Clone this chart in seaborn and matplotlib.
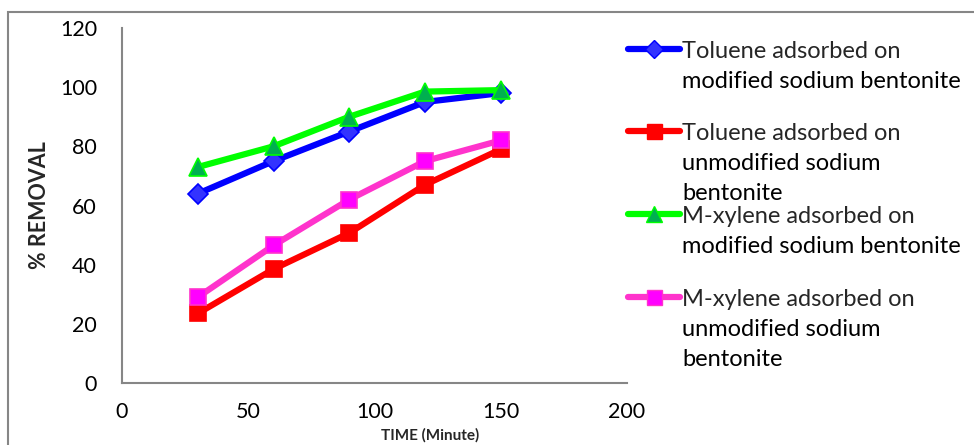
import matplotlib
matplotlib.use("Agg")
import matplotlib.pyplot as plt
import seaborn as sns
import pandas as pd
from matplotlib.patches import Rectangle
from matplotlib.lines import Line2D

time_min = [30, 60, 90, 120, 150]
toluene_modified = [64, 75, 85, 95, 98]
toluene_unmodified = [23.5, 38.5, 50.7, 67, 79]
mxylene_modified = [73, 80, 90, 98.5, 99]
mxylene_unmodified = [29, 46.5, 62, 75, 82]

series_names = [
    "Toluene adsorbed on\nmodified sodium bentonite",
    "Toluene adsorbed on\nunmodified sodium\nbentonite",
    "M-xylene adsorbed on\nmodified sodium bentonite",
    "M-xylene adsorbed on\nunmodified sodium\nbentonite",
]
series_values = [toluene_modified, toluene_unmodified, mxylene_modified, mxylene_unmodified]
line_colors = ["#0000FF", "#FF0000", "#00FF00", "#FF33CC"]
marker_faces = ["#3333FF", "#FF0000", "#00B050", "#FF00FF"]
marker_edges = ["#0000FF", "#FF0000", "#00FF00", "#FF33CC"]
markers = ["D", "s", "^", "s"]
marker_sizes = [10, 12, 13, 12]

rows = []
for name, vals in zip(series_names, series_values):
    for t, v in zip(time_min, vals):
        rows.append({"time": t, "removal": v, "series": name})
df = pd.DataFrame(rows)

sns.set_theme(style="white")
plt.rcParams["font.family"] = ["Lato", "DejaVu Sans"]

fig = plt.figure(figsize=(9.74, 4.45), dpi=100)
W, H = 974, 445
ax = fig.add_axes([122 / W, (H - 383) / H, (627 - 122) / W, (383 - 28) / H])

handles = []
for i, name in enumerate(series_names):
    sub = df[df["series"] == name]
    sns.lineplot(data=sub, x="time", y="removal", ax=ax, color=line_colors[i],
                 linewidth=4.5, marker=markers[i], markersize=marker_sizes[i],
                 markerfacecolor=marker_faces[i], markeredgecolor=marker_edges[i],
                 markeredgewidth=1.2, legend=False, zorder=3 + i)
    handles.append(ax.lines[-1])

ax.set_xlim(0, 200)
ax.set_ylim(0, 120)
ax.set_xticks([0, 50, 100, 150, 200])
ax.set_yticks([0, 20, 40, 60, 80, 100, 120])
ax.tick_params(axis="both", labelsize=15.5, length=0, colors="black")
ax.tick_params(axis="y", pad=18)
ax.tick_params(axis="x", pad=14)
for s in ["top", "right"]:
    ax.spines[s].set_visible(False)
for s in ["left", "bottom"]:
    ax.spines[s].set_color("#868686")
    ax.spines[s].set_linewidth(1.5)
ax.set_xlabel("TIME (Minute)", fontsize=11, fontweight="bold")
ax.set_ylabel("% REMOVAL", fontsize=15.5, fontweight="bold")
ax.xaxis.set_label_coords((430 - 122) / (627 - 122), -(428 - 383) / (383 - 28))
ax.yaxis.set_label_coords(-(122 - 50) / (627 - 122), (383 - 205) / (383 - 28))

# outer chart border
fig.add_artist(Rectangle((8 / W, -0.05), 1.1, (H - 12) / H + 0.05,
                         transform=fig.transFigure, fill=False,
                         edgecolor="#868686", linewidth=1.5))

# legend entries: handle aligned to first line of each label
first_line_y = [51, 133, 216, 299]
line_step = 30.5
fs = 17
for i, name in enumerate(series_names):
    lines = name.split("\n")
    proxy = Line2D([], [], color=line_colors[i], linewidth=4.5, marker=markers[i],
                   markersize=marker_sizes[i] * 0.9, markerfacecolor=marker_faces[i],
                   markeredgecolor=marker_edges[i])
    leg = fig.legend([proxy], [lines[0]], loc="center left",
                     bbox_to_anchor=(628 / W, (H - first_line_y[i]) / H),
                     frameon=False, fontsize=fs, handlelength=2.2,
                     handletextpad=0.1, borderpad=0, borderaxespad=0)
    fig.canvas.draw()
    x0 = leg.get_texts()[0].get_window_extent().x0 / W
    for k, extra in enumerate(lines[1:], start=1):
        fig.text(x0, (H - first_line_y[i] - k * line_step) / H, extra,
                 fontsize=fs, va="center", ha="left", color="black")

fig.savefig("out.png", dpi=100, facecolor="white")
